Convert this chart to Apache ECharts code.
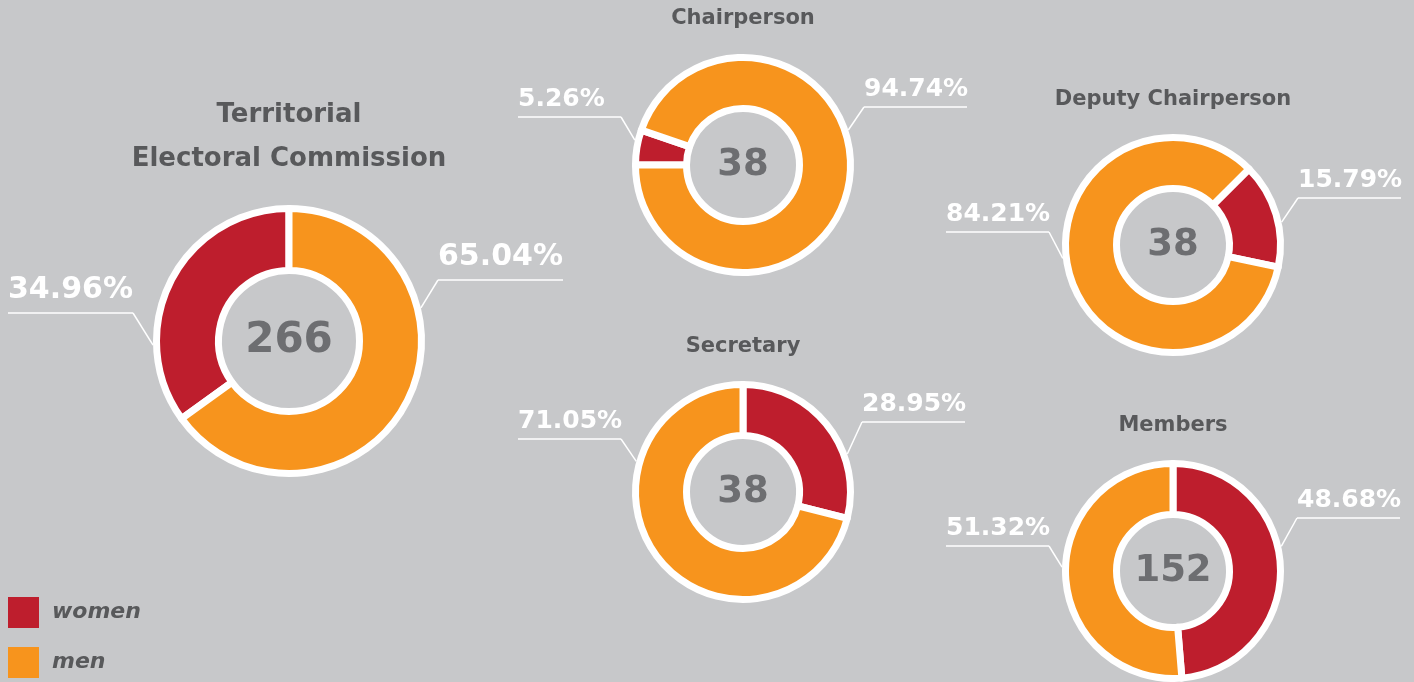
<!DOCTYPE html>
<html>
<head>
<meta charset="utf-8">
<script src="https://cdn.jsdelivr.net/npm/echarts@6/dist/echarts.min.js"></script>
<style>
  html, body { margin: 0; padding: 0; background: #c7c8ca; }
  #main { width: 1414px; height: 682px; }
</style>
</head>
<body>
<div id="main"></div>
<script>
// data
var GROUPS = ['Territorial\nElectoral Commission', 'Chairperson', 'Deputy Chairperson', 'Secretary', 'Members'];
var WOMEN = [93, 2, 6, 11, 74];
var MEN = [173, 36, 32, 27, 78];
var LEGEND = ['women', 'men'];
var COLORS = { women: '#be1e2d', men: '#f7941d' };

// layout of each donut (position, size, where its labels sit)
var LAYOUT = [
  { center: [289, 341], radius: [70.5, 132.5], big: true, startAngle: 90, clockwise: false, titleAt: [289, 137],
    labels: [{ x: 8, y: 313, angle: 181.7 }, { x: 438, y: 280, angle: 14.1 }] },
  { center: [743, 165], radius: [56.5, 107.5], startAngle: 180, clockwise: true, titleAt: [743, 19],
    labels: [{ x: 518, y: 117, angle: 167 }, { x: 864, y: 107, angle: 18.4 }] },
  { center: [1173, 245], radius: [56.5, 107.5], startAngle: 45, clockwise: true, titleAt: [1173, 100],
    labels: [{ x: 1298, y: 198, angle: 11.9 }, { x: 946, y: 232, angle: 186.9 }] },
  { center: [743, 492], radius: [56.5, 107.5], startAngle: 90, clockwise: true, titleAt: [743, 347],
    labels: [{ x: 862, y: 422, angle: 20 }, { x: 518, y: 439, angle: 164 }] },
  { center: [1173, 571], radius: [56.5, 107.5], startAngle: 90, clockwise: true, titleAt: [1173, 426],
    labels: [{ x: 1297, y: 518, angle: 12.8 }, { x: 946, y: 546, angle: 178 }] }
];

var FONT = 'DejaVu Sans';
var BORDER = 7;

var myChart = echarts.init(document.getElementById('main'));

var titles = [];
var series = [];

LAYOUT.forEach(function (lay, i) {
  var pSize = lay.big ? 30 : 25;
  var pLine = lay.big ? 44 : 34;
  var uWidth = lay.big ? 125 : 103;

  // chart name
  titles.push({
    text: GROUPS[i],
    left: lay.titleAt[0],
    top: lay.titleAt[1],
    textAlign: 'center',
    textVerticalAlign: 'middle',
    padding: 0,
    textStyle: {
      fontFamily: FONT, fontWeight: 'bold', color: '#58595b',
      fontSize: lay.big ? 26 : 21, lineHeight: lay.big ? 43.5 : 24
    }
  });
  // total in the middle
  titles.push({
    text: String(WOMEN[i] + MEN[i]),
    left: lay.center[0],
    top: lay.center[1],
    textAlign: 'center',
    textVerticalAlign: 'middle',
    padding: 0,
    textStyle: {
      fontFamily: FONT, fontWeight: 'bold', color: '#6d6e71',
      fontSize: lay.big ? 42 : 37
    }
  });

  series.push({
    name: GROUPS[i],
    type: 'pie',
    center: lay.center,
    radius: lay.radius,
    startAngle: lay.startAngle,
    clockwise: lay.clockwise,
    avoidLabelOverlap: false,
    silent: true,
    itemStyle: { borderColor: '#fff', borderWidth: BORDER },
    label: {
      show: true,
      position: 'outside',
      formatter: '{p|{d}%}\n{u| }',
      padding: [0, 0, pLine, 0],
      rich: {
        p: { fontFamily: FONT, fontWeight: 'bold', fontSize: pSize, lineHeight: pLine, color: '#fff' },
        u: { width: uWidth, height: 1.5, lineHeight: 1.5, fontSize: 1, backgroundColor: '#fff' }
      }
    },
    labelLine: {
      show: true, length: 10, length2: 0,
      lineStyle: { color: '#fff', width: 1.5 }
    },
    labelLayout: function (params) {
      var l = lay.labels[params.dataIndex];
      var rw = lay.radius[1] + BORDER / 2;
      var a = l.angle * Math.PI / 180;
      var start = [lay.center[0] + rw * Math.cos(a), lay.center[1] - rw * Math.sin(a)];
      var end = l.x < lay.center[0] ? [l.x + uWidth, l.y] : [l.x, l.y];
      return {
        x: l.x, y: l.y, align: 'left', verticalAlign: 'middle',
        labelLinePoints: [start, end, end]
      };
    },
    data: [
      { name: LEGEND[0], value: WOMEN[i], itemStyle: { color: COLORS.women } },
      { name: LEGEND[1], value: MEN[i], itemStyle: { color: COLORS.men } }
    ]
  });
});

var option = {
  backgroundColor: '#c7c8ca',
  animation: false,
  title: titles,
  legend: {
    data: LEGEND,
    orient: 'vertical',
    left: 8,
    top: 597,
    padding: 0,
    icon: 'rect',
    itemWidth: 31,
    itemHeight: 31,
    itemGap: 19,
    selectedMode: false,
    itemStyle: { borderWidth: 0 },
    textStyle: {
      fontFamily: FONT, fontStyle: 'italic', fontWeight: 'bold',
      fontSize: 22, color: '#58595b', padding: [0, 0, 0, 8]
    }
  },
  series: series
};

myChart.setOption(option);
</script>
</body>
</html>
